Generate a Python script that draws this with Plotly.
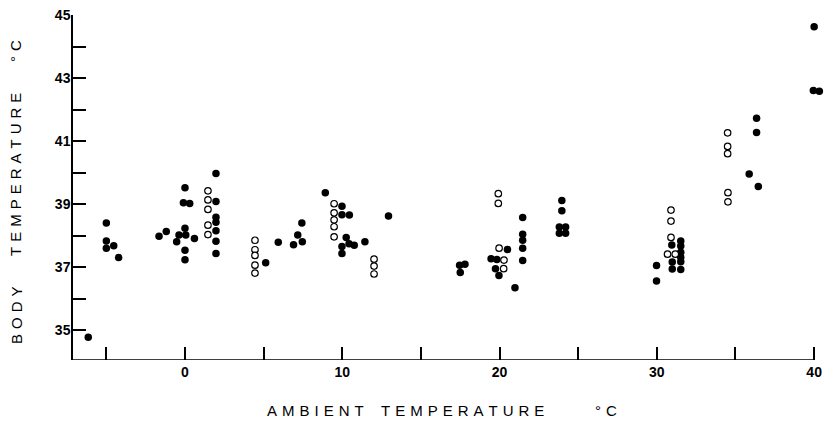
import plotly.graph_objects as go

# Closed circles (filled)
filled_x = [-6.15, -5.0, -5.0, -5.0, -4.53, -4.22,
            -1.65, -1.19, -0.53, -0.38, 0.0, -0.1, 0.3, 0.0, 0.05, 0.0, 0.0, 0.6,
            1.97, 1.97, 1.97, 1.97, 1.97, 1.97, 1.97,
            5.13, 5.93, 6.9, 7.17, 7.46, 7.43,
            8.92, 9.98, 9.98, 10.45, 10.25, 9.98, 9.98, 10.43, 10.76, 11.44, 12.94,
            17.46, 17.8, 17.5,
            20.5, 19.46, 19.83, 19.74, 19.96, 20.98,
            21.47, 21.47, 21.47, 21.47, 21.47,
            23.96, 23.96, 23.8, 24.2, 23.8, 24.2,
            29.98, 29.98, 30.95, 30.98, 30.98,
            31.52, 31.52, 31.52, 31.52, 31.52, 31.52,
            36.34, 36.34, 35.87, 36.45,
            40.0, 39.95, 40.33]
filled_y = [34.77, 38.4, 37.83, 37.6, 37.68, 37.3,
            37.98, 38.13, 37.8, 38.02, 39.52, 39.04, 39.02, 38.23, 38.02, 37.53, 37.23, 37.91,
            39.97, 39.08, 38.58, 38.42, 38.15, 37.82, 37.43,
            37.14, 37.79, 37.71, 38.02, 37.8, 38.4,
            39.36, 38.93, 38.66, 38.65, 37.94, 37.65, 37.43, 37.74, 37.69, 37.8, 38.62,
            37.06, 37.09, 36.83,
            37.56, 37.26, 37.24, 36.95, 36.73, 36.34,
            38.57, 38.04, 37.85, 37.6, 37.21,
            39.11, 38.79, 38.27, 38.27, 38.07, 38.07,
            37.05, 36.56, 37.7, 37.16, 36.94,
            37.83, 37.67, 37.47, 37.31, 37.17, 36.92,
            41.72, 41.27, 39.95, 39.56,
            44.63, 42.6, 42.58]

# Open circles
open_x = [1.46, 1.46, 1.46, 1.46, 1.46,
          4.45, 4.45, 4.45, 4.45, 4.45,
          9.48, 9.48, 9.48, 9.48, 9.48,
          12.02, 12.02, 12.02,
          19.92, 19.92, 19.97, 20.28, 20.26,
          30.9, 30.9, 30.9, 30.68, 31.17,
          34.5, 34.5, 34.5, 34.52, 34.52]
open_y = [39.42, 39.13, 38.83, 38.33, 38.03,
          37.85, 37.55, 37.37, 37.06, 36.81,
          39.01, 38.72, 38.5, 38.28, 37.96,
          37.25, 37.03, 36.78,
          39.33, 39.02, 37.6, 37.22, 36.95,
          38.81, 38.46, 37.94, 37.41, 37.41,
          41.26, 40.83, 40.6, 39.36, 39.07]

x_tickvals = [-5, 0, 5, 10, 15, 20, 25, 30, 35, 40]
x_ticktext = ["", "0", "", "10", "", "20", "", "30", "", "40"]
y_tickvals = [35, 36, 37, 38, 39, 40, 41, 42, 43, 44, 45]
y_ticktext = ["35", "", "37", "", "39", "", "41", "", "43", "", "45"]

x_title_words = ["AMBIENT", "TEMPERATURE", "°C"]
y_title_words = ["BODY", "TEMPERATURE", "°C"]

x_range = [-7.12, 40.5]
y_range = [34.05, 45]

fig = go.Figure()
fig.add_trace(go.Scatter(x=filled_x, y=filled_y, mode="markers", cliponaxis=False,
                         marker=dict(symbol="circle", size=7.5, color="black",
                                     line=dict(width=0))))
fig.add_trace(go.Scatter(x=open_x, y=open_y, mode="markers", cliponaxis=False,
                         marker=dict(symbol="circle", size=6.5, color="white",
                                     line=dict(width=1.2, color="black"))))

# plot area (px)
L, R, T, B = 73, 822, 15, 360
W, H = 830, 424
pw, ph = R - L, B - T

def px2paper(px, py):
    return (px - L) / pw, (B - py) / ph

sp = "\u2004"
def spaced(w):
    return sp.join(list(w))

annotations = []
for word, cx in zip(x_title_words, [315, 462, 606]):
    xp, yp = px2paper(cx, 410)
    annotations.append(dict(text=spaced(word), x=xp, y=yp, xref="paper", yref="paper",
                            xanchor="center", yanchor="middle", showarrow=False,
                            font=dict(family="Liberation Sans", size=15, color="black")))
for word, cy in zip(y_title_words, [315, 175, 51]):
    xp, yp = px2paper(16, cy)
    annotations.append(dict(text=spaced(word), x=xp, y=yp, xref="paper", yref="paper",
                            xanchor="center", yanchor="middle", showarrow=False, textangle=-90,
                            font=dict(family="Liberation Sans", size=15, color="black")))

# x-axis baseline ends at the last tick (40)
shapes = [dict(type="line", xref="x", yref="y", x0=x_range[0], x1=x_tickvals[-1],
               y0=y_range[0], y1=y_range[0], line=dict(color="black", width=1.5))]

fig.update_layout(
    width=W, height=H,
    margin=dict(l=L, r=W - R, t=T, b=H - B, pad=0),
    plot_bgcolor="white", paper_bgcolor="white",
    showlegend=False,
    annotations=annotations,
    shapes=shapes,
    xaxis=dict(range=x_range, showgrid=False, zeroline=False,
               showline=False,
               ticks="inside", ticklen=13, tickwidth=1.5, tickcolor="black",
               tickvals=x_tickvals, ticktext=x_ticktext, ticklabelstandoff=2,
               tickfont=dict(family="Liberation Sans", size=14, color="black", weight="bold")),
    yaxis=dict(range=y_range, showgrid=False, zeroline=False,
               showline=True, linecolor="black", linewidth=1.5,
               ticks="inside", ticklen=13, tickwidth=1.5, tickcolor="black",
               tickvals=y_tickvals, ticktext=y_ticktext, ticklabelstandoff=-2,
               tickfont=dict(family="Liberation Sans", size=14, color="black", weight="bold")),
)

fig.write_html("out.html")
